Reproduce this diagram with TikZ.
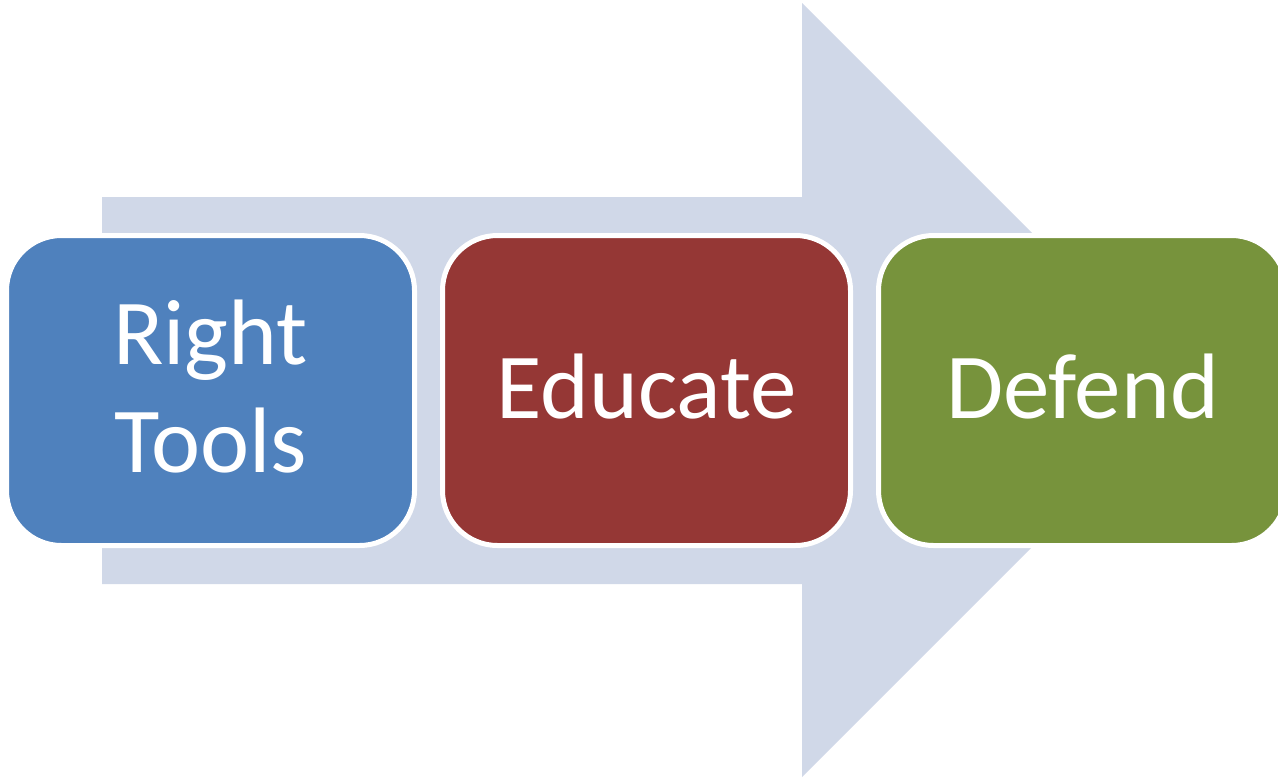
\documentclass[tikz,border=0pt]{standalone}
\usepackage{fontspec}
\setmainfont{Carlito}
\definecolor{arrowfill}{HTML}{D0D8E8}
\definecolor{stepblue}{HTML}{4F81BD}
\definecolor{stepred}{HTML}{953735}
\definecolor{stepgreen}{HTML}{77933C}
\begin{document}
\begin{tikzpicture}[x=1pt,y=-1pt,
  stepbox/.style={rectangle, rounded corners=55pt, draw=white, line width=5pt,
    minimum width=408pt, minimum height=310pt, inner sep=0pt, text depth=8pt,
    text=white, align=center, font=\fontsize{93}{108}\selectfont}]
  \useasboundingbox (0,0) rectangle (1278,777);
  \clip (0,0) rectangle (1278,777);
  % background process arrow
  \fill[arrowfill] (102,197) -- (802,197) -- (802,3) -- (1189,390)
    -- (802,777) -- (802,584) -- (102,584) -- cycle;
  % the three steps
  \node[stepbox, fill=stepblue]  (rt) at (210.5,390.5) {Right\\Tools};
  \node[stepbox, fill=stepred]   (ed) at (646.5,390.5) {Educate};
  \node[stepbox, fill=stepgreen] (df) at (1082.5,390.5) {Defend};
\end{tikzpicture}
\end{document}
